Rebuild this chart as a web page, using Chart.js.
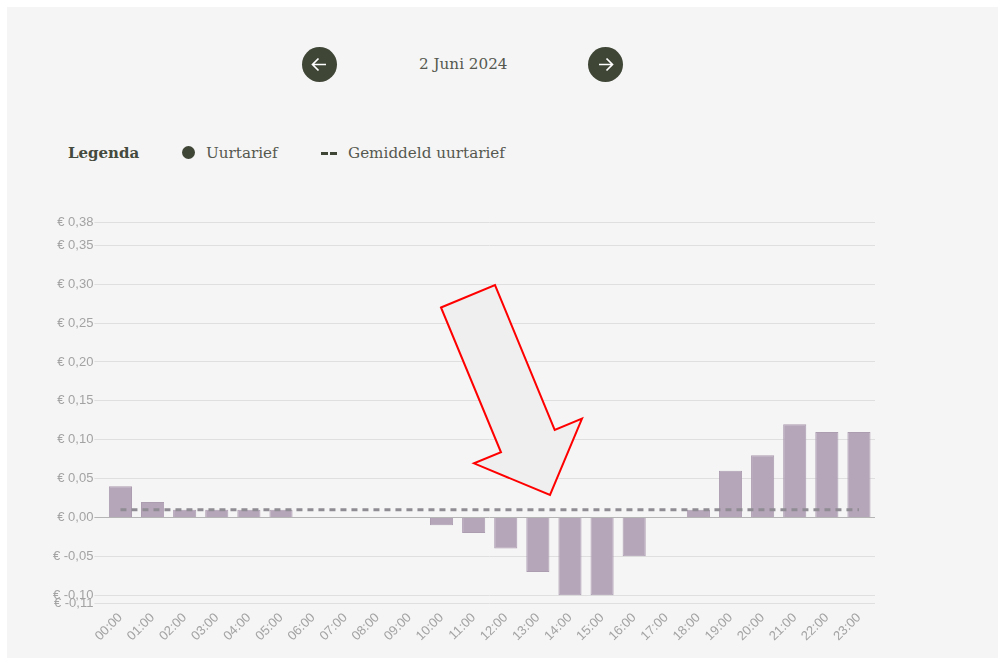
<!DOCTYPE html>
<html>
<head>
<meta charset="utf-8">
<title>Uurtarief</title>
<script src="https://cdn.jsdelivr.net/npm/chart.js@4"></script>
<style>
html, body { margin: 0; padding: 0; background: #fff; }
body { width: 998px; height: 658px; overflow: hidden; position: relative; font-family: "DejaVu Serif", serif; color: #55584f; }
#panel { position: absolute; left: 7px; top: 7px; right: 0; bottom: 0; background: #f5f5f5; }
#wrap { position: absolute; left: 0; top: 0; width: 998px; height: 658px; }
.txt { position: absolute; white-space: nowrap; font-size: 15.2px; line-height: 22px; }
.btn { position: absolute; width: 35px; height: 35px; border-radius: 50%; background: #3f4636; }
.btn svg { display: block; }
#dot { position: absolute; left: 182px; top: 146px; width: 13px; height: 13px; border-radius: 50%; background: #3f4636; }
.dash { position: absolute; top: 152px; width: 7px; height: 3px; background: #3f4636; }
#arrow { position: absolute; left: 0; top: 0; pointer-events: none; }
</style>
</head>
<body>
<div id="panel"></div>

<div class="btn" style="left:302px;top:47px">
  <svg width="35" height="35" fill="none" stroke="#fff" stroke-width="1.7"><path d="M10.5 17.5H24M16.5 11.5l-6 6 6 6"/></svg>
</div>
<div class="txt" style="left:419px;top:53px">2 Juni 2024</div>
<div class="btn" style="left:588px;top:47px">
  <svg width="35" height="35" fill="none" stroke="#fff" stroke-width="1.7"><path d="M24.5 17.5H11M18.5 11.5l6 6-6 6"/></svg>
</div>

<div class="txt" style="left:68px;top:142px;font-weight:bold;color:#444a3d;font-size:15px">Legenda</div>
<div id="dot"></div>
<div class="txt" style="left:206px;top:142px">Uurtarief</div>
<div class="dash" style="left:321px"></div>
<div class="dash" style="left:330px"></div>
<div class="txt" style="left:348px;top:142px">Gemiddeld uurtarief</div>

<div id="wrap"><canvas id="myChart"></canvas></div>

<svg id="arrow" width="998" height="658">
  <polygon points="441,307.5 495,285 554.7,430 582,418.7 550,495 474,463.3 501,452.3" fill="#efefef" stroke="#ff0000" stroke-width="2"/>
</svg>

<script>
const hours = ['00:00','01:00','02:00','03:00','04:00','05:00','06:00','07:00','08:00','09:00','10:00','11:00',
               '12:00','13:00','14:00','15:00','16:00','17:00','18:00','19:00','20:00','21:00','22:00','23:00'];
const hourRate = [0.04,0.02,0.01,0.01,0.01,0.01,0,0,0,0,-0.01,-0.02,-0.04,-0.07,-0.10,-0.10,-0.05,0,0.01,0.06,0.08,0.12,0.11,0.11];
const avgRate = [0.01,0.01,0.01,0.01,0.01,0.01,0.01,0.01,0.01,0.01,0.01,0.01,
                 0.01,0.01,0.01,0.01,0.01,0.01,0.01,0.01,0.01,0.01,0.01,0.01];
const yTicks = [-0.11,-0.10,-0.05,0,0.05,0.10,0.15,0.20,0.25,0.30,0.35,0.38];

function euro(v){
    return '€ ' + v.toFixed(2).replace('.', ',');
}

const data = {
    labels: hours,
    datasets: [{
            type: 'line',
            label: 'Gemiddeld uurtarief',
            data: avgRate,
            borderColor: '#8f8c93',
            borderWidth: 3,
            borderDash: [6, 5],
            pointRadius: 0,
            order: 1
        }, {
            type: 'bar',
            label: 'Uurtarief',
            data: hourRate,
            backgroundColor: '#b6a6ba',
            borderColor: '#ad9db1',
            borderWidth: 1,
            order: 2
        }]
};

const config = {
    type: 'bar',
    data: data,
    options: {
        responsive: true,
        maintainAspectRatio: false,
        animation: false,
        layout: { padding: { top: 222, right: 123, left: 0, bottom: 0 } },
        plugins: { legend: { display: false }, tooltip: { enabled: false } },
        scales: {
            x: {
                grid: { display: false },
                border: { display: false },
                afterFit: function(s){ s.height = 55; },
                ticks: {
                    color: '#a3a3a3',
                    font: { family: '"Liberation Sans"', size: 13 },
                    maxRotation: 45,
                    minRotation: 45,
                    autoSkip: false,
                    padding: -1
                }
            },
            y: {
                min: -0.11,
                max: 0.38,
                afterFit: function(s){ s.width = 104.4; },
                afterBuildTicks: function(s){
                    s.ticks = yTicks.map(function(v){ return { value: v }; });
                },
                border: { display: false },
                grid: {
                    tickLength: 10,
                    lineWidth: 1,
                    color: function(c){ return c.tick && c.tick.value === 0 ? '#b5b5b5' : '#dfdfdf'; }
                },
                ticks: {
                    color: '#a3a3a3',
                    font: { family: '"Liberation Sans"', size: 13 },
                    padding: 1,
                    callback: function(v){ return euro(v); }
                }
            }
        }
    }
};

const ctx = document.getElementById("myChart").getContext("2d");
new Chart(ctx, config);
</script>
</body>
</html>
